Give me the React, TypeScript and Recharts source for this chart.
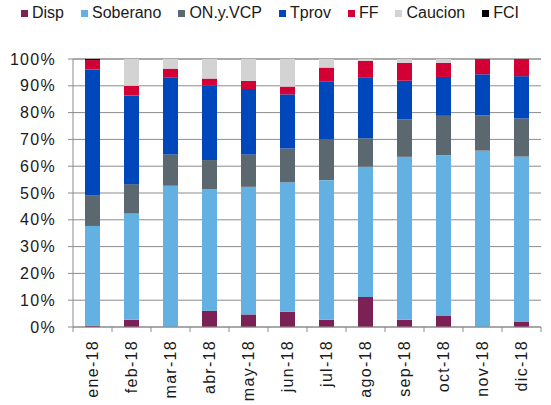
import { BarChart, Bar, XAxis, YAxis, CartesianGrid } from 'recharts';

const months = ['ene-18', 'feb-18', 'mar-18', 'abr-18', 'may-18', 'jun-18', 'jul-18', 'ago-18', 'sep-18', 'oct-18', 'nov-18', 'dic-18'];
const disp = [0.5, 2.7, 0, 6.1, 4.7, 5.7, 2.7, 11.2, 2.7, 4.1, 0, 1.9];
const soberano = [37.2, 39.8, 52.7, 45.3, 47.6, 48.3, 52.1, 48.6, 60.8, 60.0, 65.8, 61.7];
const onVcp = [11.4, 10.8, 11.7, 10.9, 12.1, 12.6, 15.2, 10.6, 14.0, 14.7, 13.2, 14.2];
const tprov = [47.0, 33.1, 28.8, 27.7, 24.4, 20.2, 21.5, 22.8, 14.4, 14.5, 15.3, 15.8];
const ff = [3.5, 3.6, 3.2, 2.7, 3.0, 2.9, 5.3, 6.1, 6.7, 5.3, 5.7, 6.4];
const caucion = [0, 10.0, 3.6, 7.3, 8.2, 10.3, 3.2, 0.7, 1.4, 1.4, 0, 0];
const fci = [0.4, 0, 0, 0, 0, 0, 0, 0, 0, 0, 0, 0];
const yTicks = [0, 10, 20, 30, 40, 50, 60, 70, 80, 90, 100];

const SERIES = [
  { key: 'Disp', values: disp, color: '#7B2155' },
  { key: 'Soberano', values: soberano, color: '#63B0E3' },
  { key: 'ON.y.VCP', values: onVcp, color: '#5B6870' },
  { key: 'Tprov', values: tprov, color: '#0047BB' },
  { key: 'FF', values: ff, color: '#D20035' },
  { key: 'Caucion', values: caucion, color: '#D3D3D3' },
  { key: 'FCI', values: fci, color: '#000000' },
];

const data = months.map((m, i) => {
  const row: Record<string, string | number> = { month: m };
  SERIES.forEach((s) => {
    row[s.key] = s.values[i];
  });
  return row;
});

const FONT = '"Liberation Sans", Arial, sans-serif';
const AXIS = '#8c8c8c';

const MonthTick = (props: any) => {
  const { x, y, payload, index } = props;
  const half = payload && payload.offset ? payload.offset : 19.5;
  return (
    <g>
      <line x1={x - half} y1={y - 8} x2={x - half} y2={y - 3} stroke={AXIS} strokeWidth={1} />
      {index === months.length - 1 && (
        <line x1={x + half} y1={y - 8} x2={x + half} y2={y - 3} stroke={AXIS} strokeWidth={1} />
      )}
      <text
        x={x}
        y={y + 5}
        transform={`rotate(-90, ${x}, ${y + 5})`}
        textAnchor="end"
        dy="0.36em"
        fontSize={16}
        letterSpacing={1.3}
        fontFamily={FONT}
        fill="#1a1a1a"
      >
        {payload.value}
      </text>
    </g>
  );
};

export default function App() {
  return (
    <div style={{ position: 'absolute', left: 0, top: 0, width: 551, height: 405, background: '#fff' }}>
      <div
        style={{
          position: 'absolute',
          left: 21,
          top: 4,
          display: 'flex',
          alignItems: 'center',
          fontFamily: FONT,
          fontSize: 16,
          color: '#1a1a1a',
          whiteSpace: 'nowrap',
        }}
      >
        {SERIES.map((s) => (
          <div key={s.key} style={{ display: 'flex', alignItems: 'center', marginRight: 17 }}>
            <span style={{ width: 7, height: 7, background: s.color, marginRight: 4, display: 'inline-block' }} />
            <span>{s.key}</span>
          </div>
        ))}
      </div>
      <BarChart
        width={551}
        height={405}
        data={data}
        margin={{ top: 59, right: 10, left: 0, bottom: 0 }}
        barSize={15}
      >
        <CartesianGrid vertical={false} stroke={AXIS} strokeWidth={1} />
        <XAxis
          dataKey="month"
          height={78}
          interval={0}
          tickLine={false}
          axisLine={{ stroke: AXIS }}
          tick={<MonthTick />}
        />
        <YAxis
          width={73}
          domain={[0, 100]}
          ticks={yTicks}
          interval={0}
          tickFormatter={(v) => `${v}%`}
          tickSize={5}
          tickMargin={12}
          tickLine={{ stroke: AXIS }}
          axisLine={{ stroke: AXIS }}
          tick={{ fontSize: 16, fill: '#1a1a1a', fontFamily: FONT, letterSpacing: 1.3 }}
        />
        {SERIES.map((s) => (
          <Bar key={s.key} dataKey={s.key} stackId="a" fill={s.color} isAnimationActive={false} />
        ))}
      </BarChart>
    </div>
  );
}
